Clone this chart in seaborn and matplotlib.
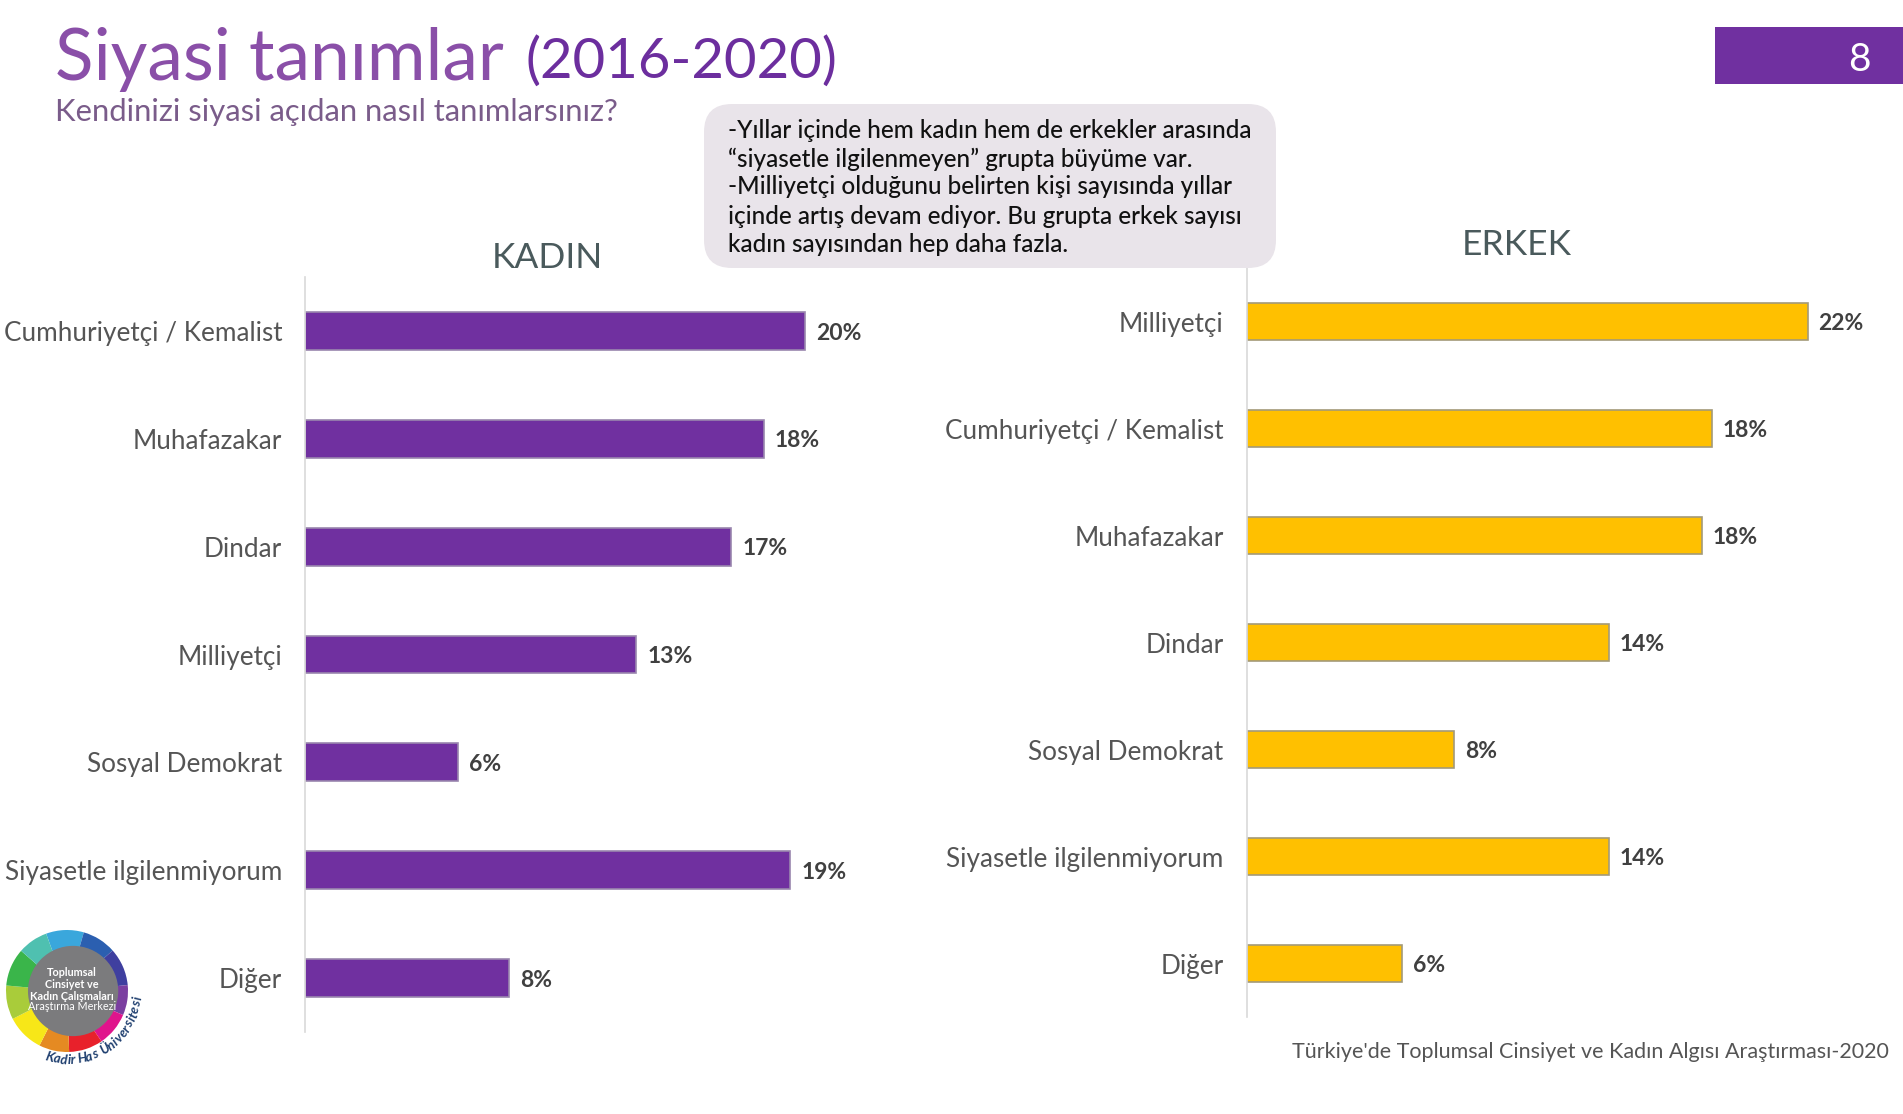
import pandas as pd
import matplotlib.pyplot as plt
from matplotlib.patches import FancyBboxPatch, Rectangle, Circle
import math
import seaborn as sns

W, H = 1903, 1114

# data
kadin_labels = ['Cumhuriyetçi / Kemalist', 'Muhafazakar', 'Dindar', 'Milliyetçi',
                'Sosyal Demokrat', 'Siyasetle ilgilenmiyorum', 'Diğer']
kadin_values = [20.0, 18.35, 17.05, 13.25, 6.1, 19.4, 8.15]
kadin_text = ['20%', '18%', '17%', '13%', '6%', '19%', '8%']

erkek_labels = ['Milliyetçi', 'Cumhuriyetçi / Kemalist', 'Muhafazakar', 'Dindar',
                'Sosyal Demokrat', 'Siyasetle ilgilenmiyorum', 'Diğer']
erkek_values = [22.0, 18.25, 17.85, 14.2, 8.15, 14.2, 6.1]
erkek_text = ['22%', '18%', '18%', '14%', '8%', '14%', '6%']

note_lines = ['-Yıllar içinde hem kadın hem de erkekler arasında',
              '“siyasetle ilgilenmeyen” grupta büyüme var.',
              '-Milliyetçi olduğunu belirten kişi sayısında yıllar',
              'içinde artış devam ediyor. Bu grupta erkek sayısı',
              'kadın sayısından hep daha fazla.']

logo_colors = ['#3AA7DC', '#2B5FB0', '#3F3F9F', '#7B3FA0', '#E0148C', '#E8212B',
               '#E58A22', '#F7E718', '#A9CC3A', '#3AB54A', '#4FC0B0']
logo_sizes = [10, 9, 10, 8, 9, 9, 8, 10, 9, 10, 8]

sns.set_theme(style='white')
plt.rcParams['font.family'] = ['Lato', 'DejaVu Sans']

PURPLE = '#7030A0'
YELLOW = '#FFC000'
GREY = '#555555'
DARK = '#404040'


def px_axes(fig, left, top, right, bottom):
    return fig.add_axes([left / W, 1 - bottom / H, (right - left) / W, (bottom - top) / H])


def draw_bars(ax, labels, values, texts, color, edge):
    df = pd.DataFrame({'label': labels, 'value': values})
    sns.barplot(data=df, x='value', y='label', color=color, saturation=1, width=0.35,
                edgecolor=edge, linewidth=1.2, ax=ax)
    ax.set_xlim(0, 24)
    ax.set_ylim(6.5, -0.5)
    ax.set_xlabel('')
    ax.set_ylabel('')
    ax.set_xticks([])
    ax.tick_params(axis='y', length=0, pad=16.5, labelsize=18.8, labelcolor=GREY)
    sns.despine(ax=ax, left=False, bottom=True)
    ax.spines['left'].set_color('#D9D9D9')
    ax.spines['left'].set_linewidth(1.2)
    value_labels = ax.bar_label(ax.containers[0], labels=texts, padding=8, fontsize=16.5,
                                color=DARK, fontweight='bold')
    for t in value_labels:
        t.xyann = (t.xyann[0], -1.5)
    ax.patch.set_alpha(0)


fig = plt.figure(figsize=(W / 100, H / 100), dpi=100, facecolor='white')

# ----------------------------
# Bar panels
# ----------------------------
ax_k = px_axes(fig, 305, 277, 905, 1032)
draw_bars(ax_k, kadin_labels, kadin_values, kadin_text, PURPLE, '#9A86AE')

ax_e = px_axes(fig, 1246.5, 268, 1858.5, 1017)
draw_bars(ax_e, erkek_labels, erkek_values, erkek_text, YELLOW, '#A39A78')

# ----------------------------
# Logo
# ----------------------------
ax_logo = px_axes(fig, 6, 930, 128, 1052)
ax_logo.pie(logo_sizes, colors=logo_colors, startangle=110, counterclock=False, radius=1.0,
            wedgeprops={'linewidth': 0, 'edgecolor': 'none'})
ax_logo.set_xlim(-1, 1)
ax_logo.set_ylim(-1, 1)
ax_logo.add_patch(Circle((0.1, 0.0), 0.74, facecolor='#7B7B7D', edgecolor='none'))

# ----------------------------
# Overlay in pixel coordinates for slide furniture
# ----------------------------
ov = fig.add_axes([0, 0, 1, 1])
ov.set_zorder(5)
ov.set_xlim(0, W)
ov.set_ylim(H, 0)
ov.axis('off')
ov.patch.set_alpha(0)

ov.text(55, 60, 'Siyasi tanımlar', fontsize=51.3, color='#8A4FA8', va='center', ha='left')
ov.text(526, 62, '(2016-2020)', fontsize=40.5, color='#6C2E9E', va='center', ha='left')
ov.text(55, 112, 'Kendinizi siyasi açıdan nasıl tanımlarsınız?', fontsize=22.3, color='#7A5C8A',
        va='center', ha='left')

ov.add_patch(Rectangle((1715, 27), 188, 57, facecolor=PURPLE, edgecolor='none'))
ov.text(1859, 60, '8', fontsize=28, color='white', ha='center', va='center')

ov.add_patch(FancyBboxPatch((726, 126), 528, 120, boxstyle='round,pad=22,rounding_size=28',
                            facecolor='#E9E4EA', edgecolor='none'))
for line, y in zip(note_lines, [131, 159, 187, 216, 245]):
    ov.text(728, y, line, fontsize=17.5, color='#111111', va='center', ha='left', fontweight='medium')

ov.text(547, 258, 'KADIN', fontsize=25.5, color='#4A5A5C', ha='center', va='center')
ov.text(1517, 245, 'ERKEK', fontsize=25.5, color='#4A5A5C', ha='center', va='center')
ov.text(1889, 1052, "Türkiye'de Toplumsal Cinsiyet ve Kadın Algısı Araştırması-2020", fontsize=15.5,
        color=GREY, ha='right', va='center')

logo_lines = ['Toplumsal', 'Cinsiyet ve', 'Kadın Çalışmaları', 'Araştırma Merkezi']
for line, y, w in zip(logo_lines, [973, 985, 996, 1007], ['bold', 'bold', 'bold', 'normal']):
    ov.text(72, y, line, fontsize=7.8, color='white', ha='center', va='center', fontweight=w)

# curved university name, narrow letters get less of the arc
logo_arc = 'Kadir Has Üniversitesi'
steps = [0.55 if ch in 'ilrt ' else 1.0 for ch in logo_arc]
total = sum(steps)
pos = 0.0
for ch, step in zip(logo_arc, steps):
    ang = -108 + 103 * (pos + step / 2) / total
    pos += step
    x = 68 + 70 * math.cos(math.radians(ang))
    y = 990 - 70 * math.sin(math.radians(ang))
    ov.text(x, y, ch, fontsize=9.5, fontweight='bold', style='italic', color='#1F3F6F',
            rotation=ang + 90, ha='center', va='center')

fig.savefig('out.png', dpi=100)
